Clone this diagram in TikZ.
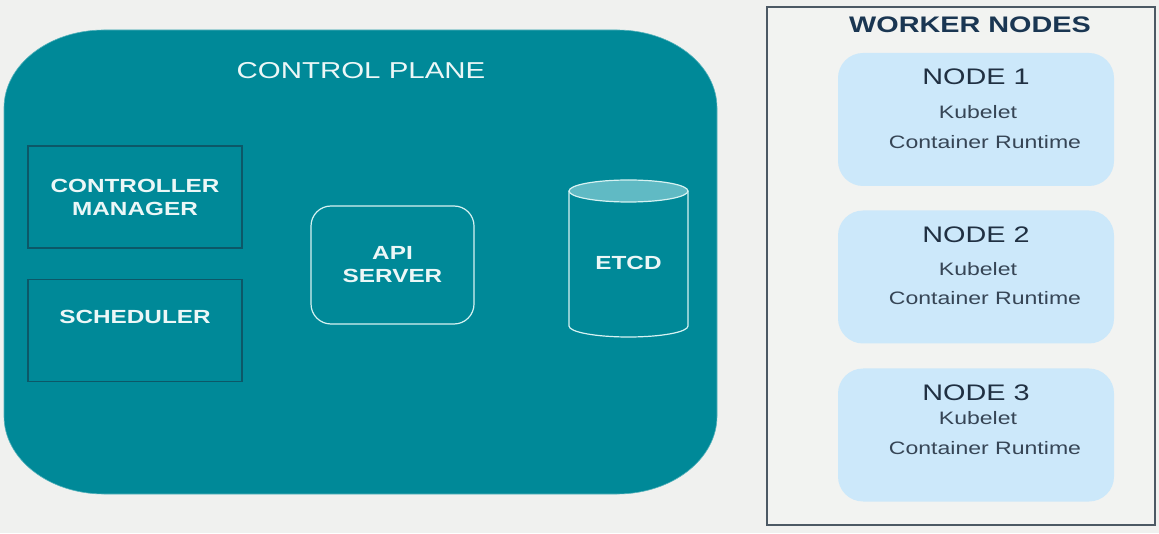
\documentclass[tikz,border=0pt]{standalone}
\usepackage{fontspec}
\setmainfont{Liberation Sans}[FakeStretch=1.28]
\usetikzlibrary{positioning}
\definecolor{pagebg}{RGB}{240,241,239}
\definecolor{cpteal}{RGB}{0,137,152}
\definecolor{cpdark}{RGB}{12,88,104}
\definecolor{cplight}{RGB}{214,242,242}
\definecolor{cptext}{RGB}{236,247,247}
\definecolor{etcdtop}{RGB}{96,186,196}
\definecolor{wkborder}{RGB}{76,89,100}
\definecolor{wkbg}{RGB}{242,243,241}
\definecolor{nodefill}{RGB}{204,232,250}
\definecolor{navy}{RGB}{26,54,82}
\definecolor{nodeink}{RGB}{32,48,66}
\begin{document}
\begin{tikzpicture}[x=1pt,y=1pt,
    cptitle/.style={text=cptext, font=\fontsize{23}{27}\selectfont, inner sep=0pt},
    boldlbl/.style={text=cptext, font=\fontsize{19}{23}\selectfont\bfseries, align=center, inner sep=0pt},
    cpbox/.style={boldlbl, draw=cpdark, line width=1.4pt, minimum width=214pt, minimum height=102pt},
    apibox/.style={boldlbl, draw=cplight, line width=1.2pt, rounded corners=20pt, minimum width=163pt, minimum height=118pt},
    wkframe/.style={draw=wkborder, line width=1.3pt, fill=wkbg, minimum width=388pt, minimum height=518pt, inner sep=0pt},
    wktitle/.style={text=navy, font=\fontsize{22.5}{26}\selectfont\bfseries, inner sep=0pt},
    nodebox/.style={fill=nodefill, rounded corners=25pt, minimum width=276pt, minimum height=133pt, inner sep=0pt},
    nodettl/.style={text=nodeink, font=\fontsize{22.5}{26}\selectfont, inner sep=0pt},
    nodetxt/.style={text=nodeink!90!white, font=\fontsize{18}{21}\selectfont, inner sep=0pt}]

    \fill[pagebg] (0,0) rectangle (1159,533);
    \useasboundingbox (0,0) rectangle (1159,533);

    % control plane
    \filldraw[fill=cpteal, draw=cpteal!60!cplight, line width=0.6pt]
        (4,117) -- (4,425) arc[start angle=180, end angle=90, x radius=100, y radius=78]
        -- (617,503) arc[start angle=90, end angle=0, x radius=100, y radius=78]
        -- (717,117) arc[start angle=0, end angle=-90, x radius=100, y radius=78]
        -- (104,39) arc[start angle=270, end angle=180, x radius=100, y radius=78] -- cycle;
    \node[cptitle] (cp) at (361,462) {CONTROL PLANE};

    \node[cpbox] (ctrl) at (135,336) {CONTROLLER\\MANAGER};
    \node[cpbox] (sched) at (135,202.5) {};
    \node[boldlbl] (schedlbl) at ([yshift=13.5]sched.center) {SCHEDULER};

    \node[apibox] (api) at (392.5,268) {API\\SERVER};

    \filldraw[fill=cpteal, draw=cplight, line width=1.2pt]
        (569,342) -- (569,207) arc[start angle=180, end angle=360, x radius=59.5, y radius=11] -- (688,342);
    \filldraw[fill=etcdtop, draw=cplight, line width=1.2pt]
        (628.5,342) ellipse[x radius=59.5, y radius=11];
    \node[boldlbl] (etcd) at (628.5,270) {ETCD};

    % worker nodes
    \node[wkframe] (workers) at (961,267) {};
    \node[wktitle] (wktitle) at (970,508) {WORKER NODES};

    \foreach \i/\y/\k/\c in {1/413.5/59/89, 2/256/59/88, 3/98/50/80} {
        \node[nodebox] (n\i) at (976,\y) {};
        \node[nodettl] (n\i t) at ([yshift=-24]n\i.north) {NODE \i};
        \node[nodetxt] (n\i k) at ([xshift=2, yshift=-\k]n\i.north) {Kubelet};
        \node[nodetxt] (n\i c) at ([xshift=9, yshift=-\c]n\i.north) {Container Runtime};
    }
\end{tikzpicture}
\end{document}
